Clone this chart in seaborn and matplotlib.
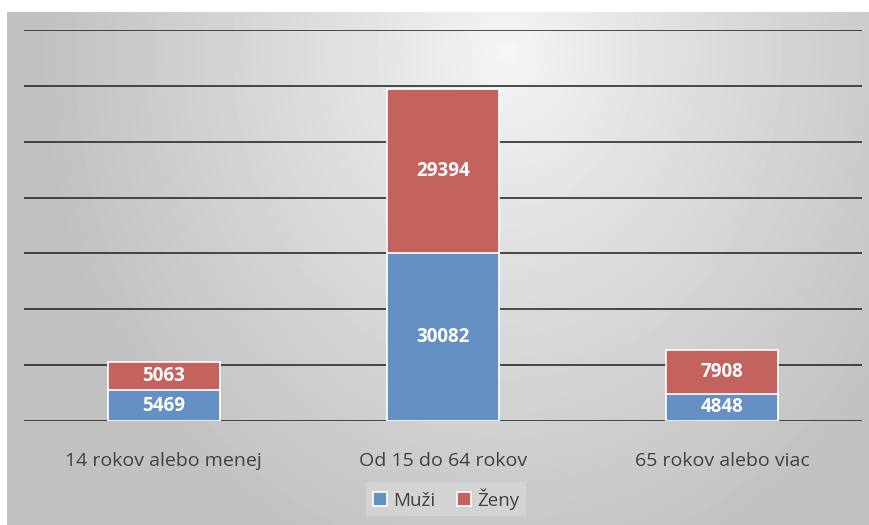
import numpy as np
import pandas as pd
import matplotlib
matplotlib.use('Agg')
import matplotlib.pyplot as plt
import seaborn as sns

# data
categories = ['14 rokov alebo menej', 'Od 15 do 64 rokov', '65 rokov alebo viac']
muzi = [5469, 30082, 4848]
zeny = [5063, 29394, 7908]

blue = '#6490c4'
red = '#c4625e'
text_grey = '#404040'

sns.set_theme(style='white')
plt.rcParams['font.family'] = ['Open Sans', 'DejaVu Sans']

fig = plt.figure(figsize=(8.69, 5.25), dpi=100)
fig.patch.set_facecolor('white')

# radial grey background of the chart area
bg = fig.add_axes([7 / 869, 0, 1 - 7 / 869, 513 / 525], zorder=0)
h, w = 513, 862
yy, xx = np.mgrid[0:h, 0:w]
r = np.sqrt(((xx - 500) / 470.0) ** 2 + ((yy - 40) / 560.0) ** 2)
shade = 0.965 - 0.21 * np.clip(r, 0, 1) ** 0.85
bg.imshow(shade, cmap='gray', vmin=0, vmax=1, aspect='auto', interpolation='bilinear')
bg.axis('off')

ax = fig.add_axes([24 / 869, (525 - 421) / 525, (862 - 24) / 869, (421 - 30) / 525], zorder=1)
ax.patch.set_alpha(0)

df = pd.DataFrame({'kat': categories, 'Muži': muzi, 'Ženy': zeny})
df['spolu'] = df['Muži'] + df['Ženy']

sns.barplot(data=df, x='kat', y='spolu', color=red, saturation=1, width=0.4,
            edgecolor='white', linewidth=1.2, label='Ženy', ax=ax, zorder=3)
sns.barplot(data=df, x='kat', y='Muži', color=blue, saturation=1, width=0.4,
            edgecolor='white', linewidth=1.2, label='Muži', ax=ax, zorder=3)
handles, labels = ax.get_legend_handles_labels()
if ax.get_legend() is not None:
    ax.get_legend().remove()

# value labels in the middle of each segment
for i, row in df.iterrows():
    ax.text(i, row['Muži'] / 2, str(row['Muži']), ha='center', va='center',
            color='white', fontsize=13.5, fontweight='bold', zorder=5)
    ax.text(i, row['Muži'] + row['Ženy'] / 2, str(row['Ženy']), ha='center', va='center',
            color='white', fontsize=13.5, fontweight='bold', zorder=5)

ax.set_ylim(0, 70000)
ax.set_yticks(np.arange(0, 70001, 10000))
ax.set_yticklabels([])
ax.set_xlim(-0.5, 2.5)
ax.yaxis.grid(True, color='#1e1e1e', linewidth=1.1, zorder=1)
ax.set_axisbelow(True)
for s in ax.spines.values():
    s.set_visible(False)
ax.set_xlabel('')
ax.set_ylabel('')
ax.tick_params(axis='x', length=0, pad=22, labelsize=14, labelcolor=text_grey)
ax.tick_params(axis='y', length=0)

order = [labels.index('Muži'), labels.index('Ženy')]
leg = fig.legend([handles[k] for k in order], [labels[k] for k in order],
                 loc='center', bbox_to_anchor=(446 / 869, (525 - 499) / 525), ncol=2,
                 frameon=True, fontsize=13.5, handlelength=0.75, handleheight=0.75,
                 handletextpad=0.3, columnspacing=1.2, borderpad=0.35, fancybox=False)
leg.get_frame().set_facecolor('#d6d6d6')
leg.get_frame().set_edgecolor('none')
for t in leg.get_texts():
    t.set_color(text_grey)

fig.savefig('out.png', dpi=100)
